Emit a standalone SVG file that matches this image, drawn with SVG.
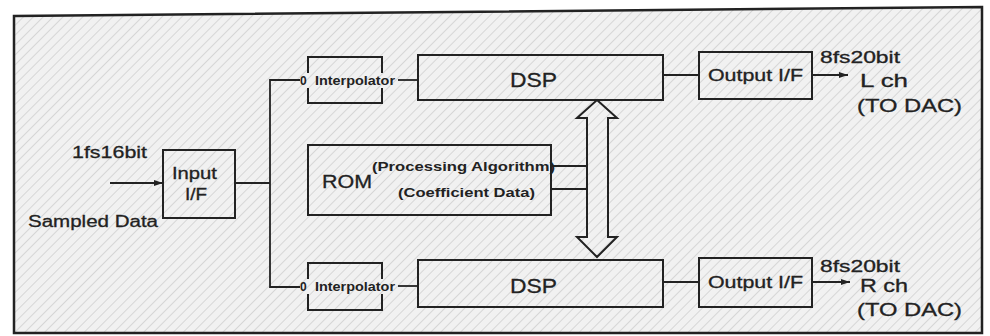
<svg xmlns="http://www.w3.org/2000/svg" width="990" height="336" viewBox="0 0 990 336">
<defs>
<pattern id="hatch" patternUnits="userSpaceOnUse" width="7" height="7" patternTransform="rotate(45)">
<rect width="7" height="7" fill="#f1f1f1"/>
<line x1="0" y1="0" x2="0" y2="7" stroke="#d6d6d6" stroke-width="2"/>
</pattern>
<marker id="ah" markerWidth="10" markerHeight="8" refX="9" refY="4" orient="auto" markerUnits="userSpaceOnUse">
<path d="M0,1 L9,4 L0,7 Z" fill="#222"/>
</marker>
<style>
.bx{fill:none;stroke:#222;stroke-width:2}
.ln{fill:none;stroke:#222;stroke-width:1.8}
text{font-family:"Liberation Sans",Arial,sans-serif;fill:#222;stroke:#222;stroke-width:0.3}
.b{font-weight:bold;stroke-width:0}
</style>
</defs>
<rect width="990" height="336" fill="#fff"/>
<polygon points="14,16 982,7 982,333 14,333" fill="url(#hatch)" stroke="#222" stroke-width="2.5"/>

<g id="labels-in">
<text x="72" y="158" font-size="17" textLength="75" lengthAdjust="spacingAndGlyphs">1fs16bit</text>
<text x="28" y="227" font-size="16" textLength="130" lengthAdjust="spacingAndGlyphs">Sampled Data</text>
</g>

<g id="input-if">
<rect class="bx" x="163" y="150" width="72" height="68"/>
<text x="172" y="179" font-size="16" textLength="45" lengthAdjust="spacingAndGlyphs">Input</text>
<text x="185" y="200" font-size="16" textLength="22" lengthAdjust="spacingAndGlyphs">I/F</text>
</g>

<g id="interp-top">
<path class="bx" d="M308,73 V57 H382 V73 M308,88 V103 H382 V88"/>
<text x="300" y="85" font-size="12" class="b">0</text>
<text x="315" y="85" font-size="12" class="b" textLength="80" lengthAdjust="spacingAndGlyphs">Interpolator</text>
</g>
<g id="interp-bot">
<path class="bx" d="M308,279 V263 H382 V279 M308,294 V310 H382 V294"/>
<text x="300" y="291" font-size="12" class="b">0</text>
<text x="315" y="291" font-size="12" class="b" textLength="80" lengthAdjust="spacingAndGlyphs">Interpolator</text>
</g>

<g id="dsp-top">
<rect class="bx" x="418" y="55" width="245" height="45"/>
<text x="510" y="87" font-size="21" textLength="47" lengthAdjust="spacingAndGlyphs">DSP</text>
</g>
<g id="dsp-bot">
<rect class="bx" x="418" y="260" width="245" height="47"/>
<text x="510" y="293" font-size="21" textLength="47" lengthAdjust="spacingAndGlyphs">DSP</text>
</g>

<g id="rom">
<rect class="bx" x="308" y="145" width="243" height="70"/>
<text x="322" y="188" font-size="19" textLength="50" lengthAdjust="spacingAndGlyphs">ROM</text>
<text x="372" y="171" font-size="13" class="b" textLength="183" lengthAdjust="spacingAndGlyphs">(Processing Algorithm)</text>
<text x="398" y="197" font-size="13" class="b" textLength="137" lengthAdjust="spacingAndGlyphs">(Coefficient Data)</text>
</g>

<g id="out-top">
<rect class="bx" x="699" y="52" width="113" height="47"/>
<text x="708" y="81" font-size="16" textLength="95" lengthAdjust="spacingAndGlyphs">Output I/F</text>
</g>
<g id="out-bot">
<rect class="bx" x="699" y="258" width="113" height="49"/>
<text x="708" y="288" font-size="16" textLength="95" lengthAdjust="spacingAndGlyphs">Output I/F</text>
</g>

<g id="labels-out">
<text x="820" y="63" font-size="16" textLength="80" lengthAdjust="spacingAndGlyphs">8fs20bit</text>
<text x="860" y="87" font-size="18" textLength="48" lengthAdjust="spacingAndGlyphs">L ch</text>
<text x="857" y="112" font-size="18" textLength="105" lengthAdjust="spacingAndGlyphs">(TO DAC)</text>
<text x="820" y="272" font-size="16" textLength="80" lengthAdjust="spacingAndGlyphs">8fs20bit</text>
<text x="860" y="292" font-size="18" textLength="48" lengthAdjust="spacingAndGlyphs">R ch</text>
<text x="857" y="316" font-size="18" textLength="105" lengthAdjust="spacingAndGlyphs">(TO DAC)</text>
</g>

<g id="connectors">
<line class="ln" x1="110" y1="183" x2="163" y2="183" marker-end="url(#ah)"/>
<polyline class="ln" points="235,183 270,183"/>
<polyline class="ln" points="300,80 270,80 270,287 300,287"/>
<line class="ln" x1="398" y1="80" x2="418" y2="80"/>
<line class="ln" x1="398" y1="286" x2="418" y2="286"/>
<line class="ln" x1="663" y1="75" x2="699" y2="75"/>
<line class="ln" x1="663" y1="282" x2="699" y2="282"/>
<line class="ln" x1="812" y1="75" x2="848" y2="75" marker-end="url(#ah)"/>
<line class="ln" x1="812" y1="282" x2="850" y2="282" marker-end="url(#ah)"/>
<line class="ln" x1="551" y1="166" x2="587" y2="166"/>
<polyline class="ln" points="551,189 587,189 587,236"/>
<polygon class="bx" points="597,100 617,118 608,118 608,237 617,237 597,257 577,237 587,237 587,118 577,118"/>
</g>
</svg>
